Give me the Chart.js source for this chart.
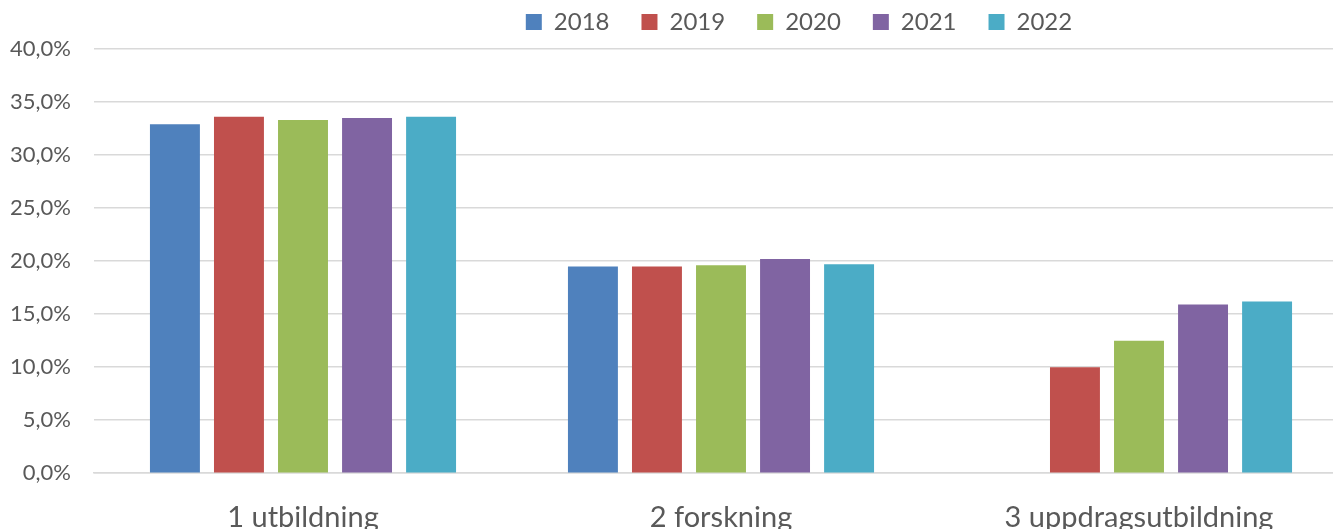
<!DOCTYPE html>
<html>
<head>
<meta charset="utf-8">
<script src="https://cdn.jsdelivr.net/npm/chart.js@4/dist/chart.umd.min.js"></script>
<style>
  html, body { margin: 0; padding: 0; background: #fff; overflow: hidden; }
  #wrap { width: 1350px; height: 562px; }
</style>
</head>
<body>
<div id="wrap"><canvas id="chart"></canvas></div>
<script>
  // Data
  const categories = ["1 utbildning", "2 forskning", "3 uppdragsutbildning"];
  const years = ["2018", "2019", "2020", "2021", "2022"];
  const values2018 = [32.9, 19.5, null];
  const values2019 = [33.6, 19.5, 10.0];
  const values2020 = [33.3, 19.6, 12.5];
  const values2021 = [33.5, 20.2, 15.9];
  const values2022 = [33.6, 19.7, 16.2];
  const yTicks = [0, 5, 10, 15, 20, 25, 30, 35, 40];

  const colors = ["#4F81BD", "#C0504D", "#9BBB59", "#8064A2", "#4BACC6"];
  const series = [values2018, values2019, values2020, values2021, values2022];

  const textColor = "#595959";
  const fontFamily = "Lato, 'Noto Sans', sans-serif";

  // move legend right and up a bit like the original
  const legendShift = {
    id: "legendShift",
    afterLayout(chart) {
      chart.legend.left += 120;
      chart.legend.right += 120;
      chart.legend.top -= 5;
      chart.legend.bottom -= 5;
    }
  };

  new Chart(document.getElementById("chart"), {
    type: "bar",
    data: {
      labels: categories,
      datasets: years.map((year, i) => ({
        label: year,
        data: series[i],
        backgroundColor: colors[i],
        borderWidth: 0,
        categoryPercentage: 0.766,
        barPercentage: 0.78
      }))
    },
    options: {
      responsive: true,
      maintainAspectRatio: false,
      animation: false,
      layout: { padding: { left: 10, right: 2, top: -17, bottom: 0 } },
      plugins: {
        legend: {
          position: "top",
          labels: {
            color: textColor,
            font: { family: fontFamily, size: 24 },
            boxWidth: 16,
            boxHeight: 16,
            padding: 32
          }
        },
        tooltip: { enabled: false }
      },
      scales: {
        x: {
          grid: { display: false, drawTicks: false },
          border: { display: true, color: "#d9d9d9", width: 1.5 },
          ticks: {
            color: textColor,
            font: { family: fontFamily, size: 29 },
            padding: 27,
            maxRotation: 0
          }
        },
        y: {
          min: 0,
          max: 40,
          afterBuildTicks(scale) {
            scale.ticks = yTicks.map(v => ({ value: v }));
          },
          afterFit(scale) { scale.width = 84; },
          grid: { color: "#d9d9d9", lineWidth: 1.5, drawTicks: false },
          border: { display: false },
          ticks: {
            color: textColor,
            font: { family: fontFamily, size: 22 },
            padding: 23,
            callback: v => v.toFixed(1).replace(".", ",") + "%"
          }
        }
      }
    },
    plugins: [legendShift]
  });
</script>
</body>
</html>
